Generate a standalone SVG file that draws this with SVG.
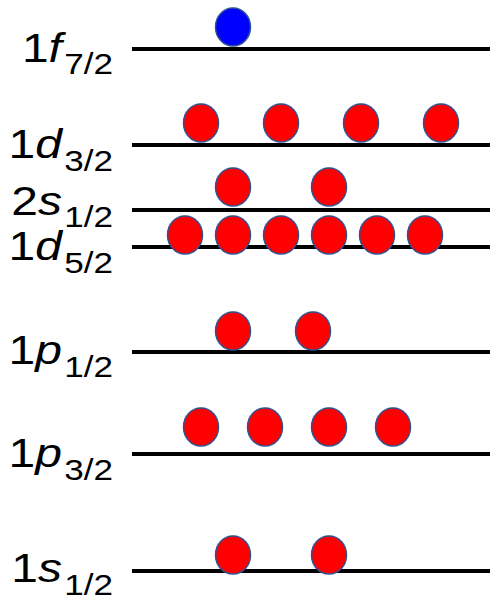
<svg xmlns="http://www.w3.org/2000/svg" width="490" height="601" viewBox="0 0 490 601">
  <style>
    .level { stroke: #000; stroke-width: 4; }
    .lbl { font-family: "Liberation Sans", Arial, sans-serif; font-size: 41px; fill: #000; text-anchor: end; }
    .orb { font-style: italic; }
    .sub { font-size: 30px; font-style: normal; }
    .p { fill: #ff0000; stroke: #2f528f; stroke-width: 1.5; }
    .n { fill: #0000ff; stroke: #2f528f; stroke-width: 1.5; }
  </style>
  <rect width="490" height="601" fill="#fff"/>

  <!-- 1f7/2 -->
  <g id="lvl-1f72">
    <line class="level" x1="132" y1="49" x2="490" y2="49"/>
    <text class="lbl" transform="translate(113 62) scale(1.17 1)">1<tspan class="orb">f</tspan><tspan class="sub" dx="2" dy="12">7/2</tspan></text>
    <ellipse class="n" cx="233" cy="27" rx="17.5" ry="19"/>
  </g>

  <!-- 1d3/2 -->
  <g id="lvl-1d32">
    <line class="level" x1="132" y1="145" x2="490" y2="145"/>
    <text class="lbl" transform="translate(113 158) scale(1.17 1)">1<tspan class="orb">d</tspan><tspan class="sub" dx="2" dy="13">3/2</tspan></text>
    <ellipse class="p" cx="201" cy="123" rx="17.5" ry="19"/>
    <ellipse class="p" cx="281" cy="123" rx="17.5" ry="19"/>
    <ellipse class="p" cx="361" cy="123" rx="17.5" ry="19"/>
    <ellipse class="p" cx="441" cy="123" rx="17.5" ry="19"/>
  </g>

  <!-- 2s1/2 -->
  <g id="lvl-2s12">
    <line class="level" x1="132" y1="210" x2="490" y2="210"/>
    <text class="lbl" transform="translate(113 215) scale(1.17 1)">2<tspan class="orb">s</tspan><tspan class="sub" dx="2" dy="12">1/2</tspan></text>
    <ellipse class="p" cx="233" cy="187" rx="17.5" ry="19"/>
    <ellipse class="p" cx="329" cy="187" rx="17.5" ry="19"/>
  </g>

  <!-- 1d5/2 -->
  <g id="lvl-1d52">
    <line class="level" x1="132" y1="247" x2="490" y2="247"/>
    <text class="lbl" transform="translate(113 260) scale(1.17 1)">1<tspan class="orb">d</tspan><tspan class="sub" dx="2" dy="13">5/2</tspan></text>
    <ellipse class="p" cx="185" cy="235" rx="17.5" ry="19"/>
    <ellipse class="p" cx="233" cy="235" rx="17.5" ry="19"/>
    <ellipse class="p" cx="281" cy="235" rx="17.5" ry="19"/>
    <ellipse class="p" cx="329" cy="235" rx="17.5" ry="19"/>
    <ellipse class="p" cx="377" cy="235" rx="17.5" ry="19"/>
    <ellipse class="p" cx="425" cy="235" rx="17.5" ry="19"/>
  </g>

  <!-- 1p1/2 -->
  <g id="lvl-1p12">
    <line class="level" x1="132" y1="352" x2="490" y2="352"/>
    <text class="lbl" transform="translate(113 364) scale(1.17 1)">1<tspan class="orb">p</tspan><tspan class="sub" dx="2" dy="13">1/2</tspan></text>
    <ellipse class="p" cx="233" cy="331" rx="17.5" ry="19"/>
    <ellipse class="p" cx="313" cy="331" rx="17.5" ry="19"/>
  </g>

  <!-- 1p3/2 -->
  <g id="lvl-1p32">
    <line class="level" x1="132" y1="454" x2="490" y2="454"/>
    <text class="lbl" transform="translate(113 467) scale(1.17 1)">1<tspan class="orb">p</tspan><tspan class="sub" dx="2" dy="13">3/2</tspan></text>
    <ellipse class="p" cx="201" cy="427" rx="17.5" ry="19"/>
    <ellipse class="p" cx="265" cy="427" rx="17.5" ry="19"/>
    <ellipse class="p" cx="329" cy="427" rx="17.5" ry="19"/>
    <ellipse class="p" cx="393" cy="427" rx="17.5" ry="19"/>
  </g>

  <!-- 1s1/2 -->
  <g id="lvl-1s12">
    <line class="level" x1="132" y1="571" x2="490" y2="571"/>
    <text class="lbl" transform="translate(113 582) scale(1.17 1)">1<tspan class="orb">s</tspan><tspan class="sub" dx="2" dy="13">1/2</tspan></text>
    <ellipse class="p" cx="233" cy="555" rx="17.5" ry="19"/>
    <ellipse class="p" cx="329" cy="555" rx="17.5" ry="19"/>
  </g>
</svg>
